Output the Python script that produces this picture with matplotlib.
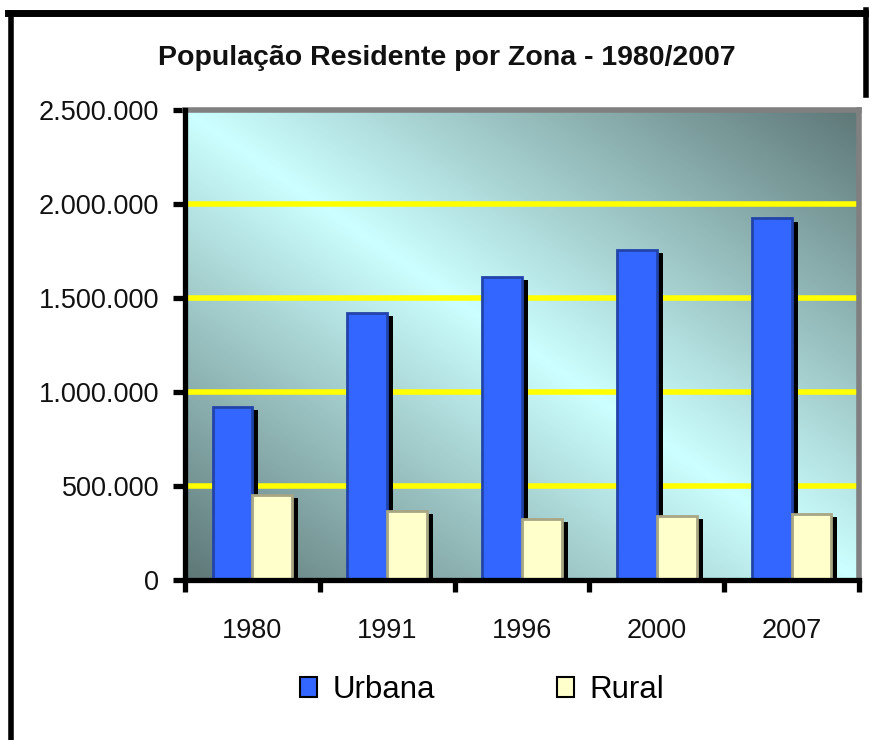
import numpy as np
import matplotlib
matplotlib.use("Agg")
import matplotlib.pyplot as plt
from matplotlib.patches import Patch
from matplotlib.lines import Line2D
from matplotlib.ticker import FuncFormatter, FixedLocator
import matplotlib.patheffects as pe
from matplotlib.colors import LinearSegmentedColormap

plt.rcParams['font.family'] = ['Liberation Sans', 'DejaVu Sans']

title = "População Residente por Zona - 1980/2007"
years = ['1980', '1991', '1996', '2000', '2007']
urbana = [919000, 1421000, 1613000, 1757000, 1923000]
rural = [454000, 369000, 326000, 342000, 353000]
series_names = ['Urbana', 'Rural']
yticks = [0, 500000, 1000000, 1500000, 2000000, 2500000]

c_urb = '#3366FF'
c_urb_edge = '#2244AA'
c_rur = '#FFFFCC'
c_rur_edge = '#A8A684'

fig = plt.figure(figsize=(8.7, 7.4), dpi=100)
ax = fig.add_axes([185/870, 1-580/740, 674/870, 470/740])

# gradient background
n = 300
u = np.linspace(0, 1, n)
v = np.linspace(1, 0, n)  # image rows top -> bottom
U, V = np.meshgrid(u, v)
t = np.abs(U - (1 - V))
cmap = LinearSegmentedColormap.from_list('bg', ['#CCFFFF', '#5E7777'])
ax.imshow(t, cmap=cmap, vmin=0, vmax=1, extent=[0, 1, 0, 1],
          transform=ax.transAxes, aspect='auto', zorder=0, interpolation='bilinear')

x = np.arange(len(years))
w = 0.295
shadow = [pe.SimplePatchShadow(offset=(4.3, -2.2), shadow_rgbFace='k', alpha=1.0), pe.Normal()]
b1 = ax.bar(x - w/2, urbana, w, color=c_urb, edgecolor=c_urb_edge, linewidth=2, zorder=3)
b2 = ax.bar(x + w/2, rural, w, color=c_rur, edgecolor=c_rur_edge, linewidth=2, zorder=3)
for b in list(b1) + list(b2):
    b.set_path_effects(shadow)

ax.set_xlim(-0.5, len(years) - 0.5)
ax.set_ylim(0, 2500000)
ax.set_yticks(yticks)
ax.yaxis.set_major_formatter(FuncFormatter(lambda val, p: f"{int(val):,}".replace(',', '.')))

for yv in yticks[1:-1]:
    ax.axhline(yv, color='#FFFF00', linewidth=4.0, zorder=1)

ax.xaxis.set_major_locator(FixedLocator(np.arange(len(years) + 1) - 0.5))
ax.xaxis.set_minor_locator(FixedLocator(x))
ax.set_xticklabels([], minor=False)
ax.set_xticklabels(years, minor=True)
ax.tick_params(axis='x', which='major', length=8.5, width=3.8, color='black', direction='out')
ax.tick_params(axis='x', which='minor', length=0, pad=27, labelsize=19.5, labelcolor='#111111')
ax.tick_params(axis='y', length=8.5, width=3.8, color='black', direction='out', pad=10,
               labelsize=19.5, labelcolor='#111111')

for s in ['left', 'bottom']:
    ax.spines[s].set_color('black')
    ax.spines[s].set_linewidth(3.8)
    ax.spines[s].set_zorder(5)
for s in ['top', 'right']:
    ax.spines[s].set_color('#808080')
    ax.spines[s].set_linewidth(4.0)

fig.text(447/870, 1-58/740, title, ha='center', va='center', fontsize=20.5,
         fontweight='bold', color='#111111')

handles = [Patch(facecolor=c_urb, edgecolor='black', linewidth=1.5),
           Patch(facecolor=c_rur, edgecolor='black', linewidth=1.5)]
fig.legend(handles, series_names, loc='center', bbox_to_anchor=(482/870, 1-690/740),
           ncol=2, frameon=False, fontsize=22.5, handlelength=0.55, handleheight=0.6,
           handletextpad=0.5, columnspacing=3.9)

# outer frame
fig.add_artist(Line2D([11/870, 11/870], [0, 1-13/740], color='black', linewidth=4,
                      transform=fig.transFigure))
fig.add_artist(Line2D([8/870, 866/870], [1-13/740, 1-13/740], color='black', linewidth=5,
                      transform=fig.transFigure))
fig.add_artist(Line2D([866/870, 866/870], [1-10/740, 1-95/740], color='black', linewidth=4,
                      transform=fig.transFigure))

fig.savefig('out.png', dpi=100)
